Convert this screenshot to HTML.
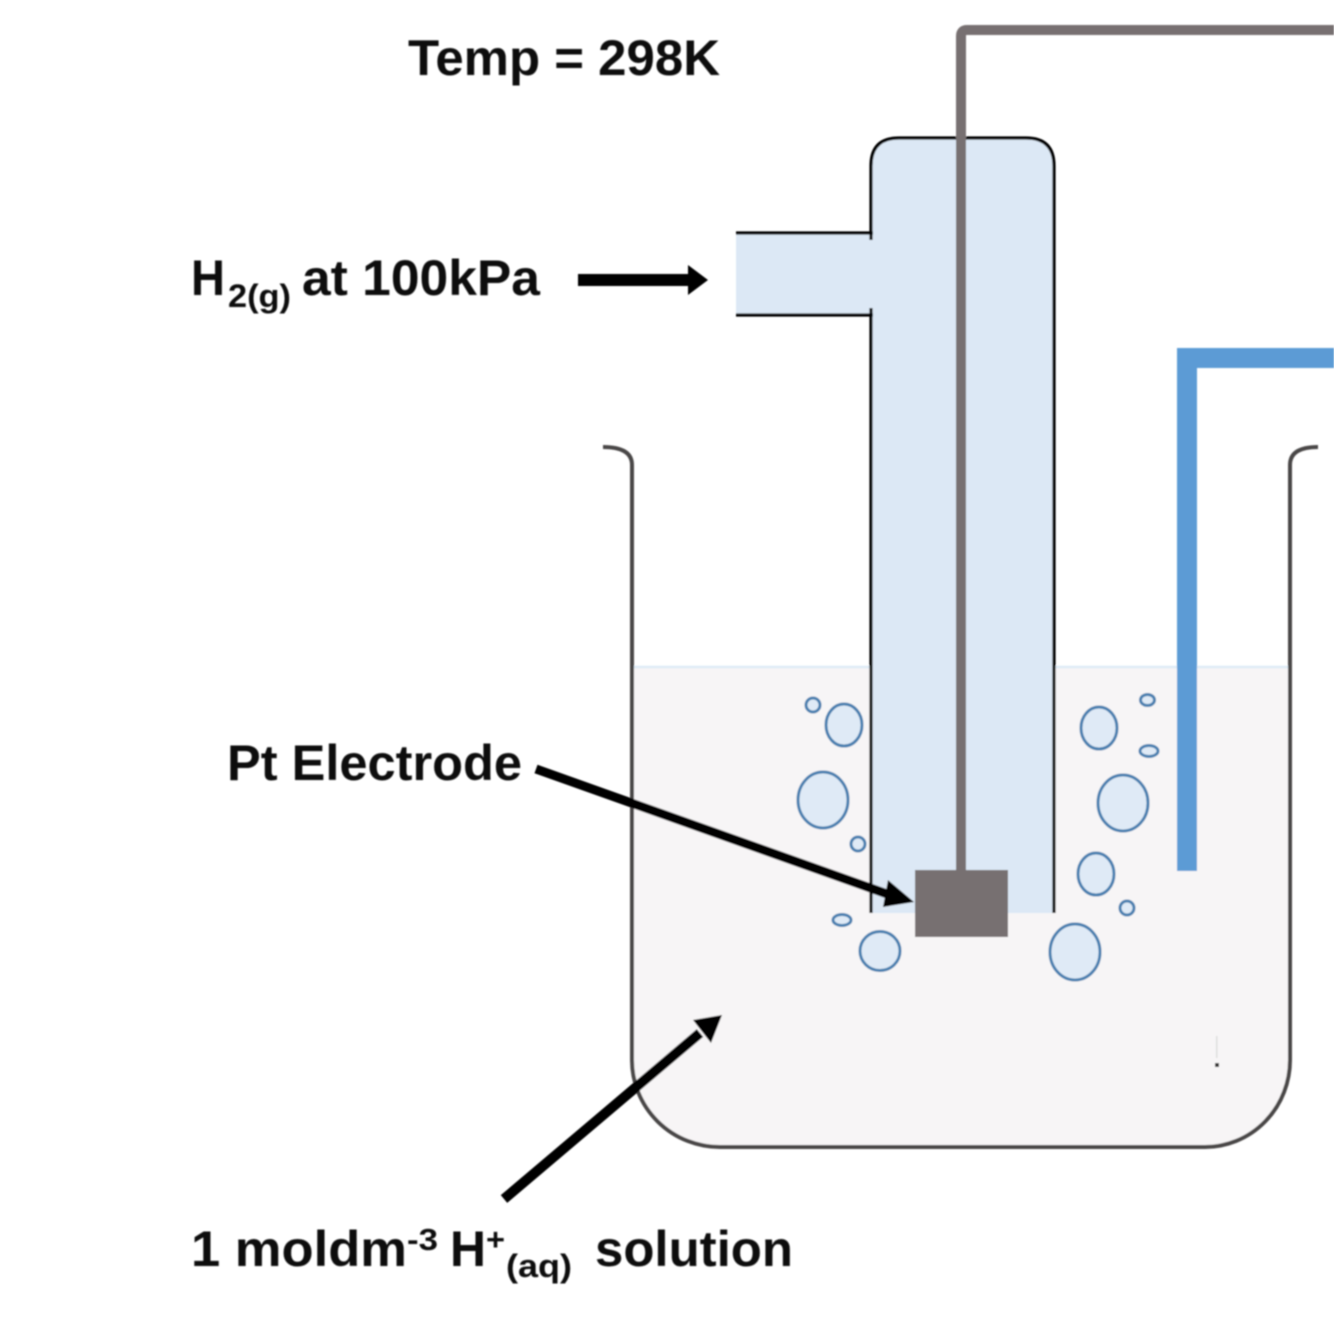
<!DOCTYPE html>
<html><head><meta charset="utf-8"><style>
html,body{margin:0;padding:0;background:#fff}
svg{display:block}
text{font-family:"Liberation Sans",sans-serif;font-weight:bold;fill:#111}
</style></head><body>
<svg width="1334" height="1342" viewBox="0 0 1334 1342" xmlns="http://www.w3.org/2000/svg">
<defs><filter id="b" x="-2%" y="-2%" width="104%" height="104%"><feGaussianBlur stdDeviation="0.8"/></filter>
<filter id="t" x="-5%" y="-20%" width="110%" height="140%"><feGaussianBlur stdDeviation="0.8"/></filter></defs>
<g filter="url(#b)">
<path d="M632 667H1290V1060A85 87 0 0 1 1205 1147H720A88 87 0 0 1 632 1060Z" fill="#f7f5f6"/>
<path d="M632 667H871M1054 667H1288" stroke="#deebf6" stroke-width="2.500" fill="none"/>
<path d="M603 447Q632 447 632 465V1060A88 87 0 0 0 720 1147H1205A85 87 0 0 0 1290 1060V465Q1290 447 1318 447" fill="none" stroke="#4a4646" stroke-width="4"/>
<path d="M871 913V166Q871 138 899 138H1026Q1054 138 1054 166V913Z" fill="#dce8f5"/>
<rect x="736" y="233" width="137" height="82" fill="#dce8f5"/>
<path d="M871 913V308M871 240V166Q871 138 899 138H1026Q1054 138 1054 166V913M736 233H873M736 315H873" fill="none" stroke="#000" stroke-width="3.200"/>
<path d="M961 880V36Q961 30 967 30H1334" fill="none" stroke="#777071" stroke-width="10"/>
<rect x="915" y="870" width="93" height="67" fill="#777071"/>
<path d="M1187 871V358H1334" fill="none" stroke="#5b9bd5" stroke-width="20"/>
<g fill="#dfeaf6" stroke="#4a80b0" stroke-width="3">
<ellipse cx="813" cy="705" rx="7" ry="7"/>
<ellipse cx="844" cy="725" rx="18" ry="21"/>
<ellipse cx="823" cy="800" rx="25" ry="28"/>
<ellipse cx="858" cy="844" rx="7" ry="7"/>
<ellipse cx="842" cy="920" rx="9" ry="5.500"/>
<ellipse cx="880" cy="951" rx="20" ry="19.500"/>
<ellipse cx="1099" cy="728" rx="18" ry="21"/>
<ellipse cx="1147.500" cy="700" rx="7" ry="5.500"/>
<ellipse cx="1149" cy="751" rx="9" ry="5.500"/>
<ellipse cx="1123" cy="803" rx="25" ry="28"/>
<ellipse cx="1096" cy="874" rx="18" ry="21"/>
<ellipse cx="1127" cy="908" rx="7" ry="7"/>
<ellipse cx="1075" cy="952" rx="25" ry="28"/>
</g>
<path d="M578 280H692" stroke="#000" stroke-width="12"/>
<path d="M688 265L708 280L688 295Z" fill="#000"/>
<path d="M536 769L890 895" stroke="#000" stroke-width="9"/>
<path d="M888 880L914 902L883 907Z" fill="#000"/>
<path d="M504 1199L700 1033" stroke="#000" stroke-width="10"/>
<path d="M693 1020L722 1015L711 1043Z" fill="#000"/>
<rect x="1215" y="1063" width="4" height="4" fill="#333"/>
<rect x="1216" y="1036" width="1.500" height="22" fill="#ddd"/>
</g>
<g filter="url(#t)">
<text x="408" y="75" font-size="50" textLength="312" lengthAdjust="spacingAndGlyphs">Temp = 298K</text>
<text x="191" y="295" font-size="50" textLength="34" lengthAdjust="spacingAndGlyphs">H</text>
<text x="228" y="307" font-size="32" textLength="63" lengthAdjust="spacingAndGlyphs">2(g)</text>
<text x="302" y="295" font-size="50" textLength="238" lengthAdjust="spacingAndGlyphs">at 100kPa</text>
<text x="227" y="780" font-size="50" textLength="295" lengthAdjust="spacingAndGlyphs">Pt Electrode</text>
<text x="191" y="1266" font-size="50" textLength="216" lengthAdjust="spacingAndGlyphs">1 moldm</text>
<text x="407" y="1250" font-size="31" textLength="31" lengthAdjust="spacingAndGlyphs">-3</text>
<text x="450" y="1266" font-size="50" textLength="36" lengthAdjust="spacingAndGlyphs">H</text>
<text x="486" y="1250" font-size="31" textLength="19" lengthAdjust="spacingAndGlyphs">+</text>
<text x="506" y="1277" font-size="32" textLength="66" lengthAdjust="spacingAndGlyphs">(aq)</text>
<text x="595" y="1266" font-size="50" textLength="198" lengthAdjust="spacingAndGlyphs">solution</text>
</g>
</svg>
</body></html>
